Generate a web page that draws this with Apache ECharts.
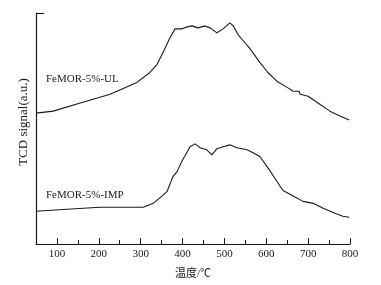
<!DOCTYPE html>
<html>
<head>
<meta charset="utf-8">
<script src="https://cdn.jsdelivr.net/npm/echarts@6/dist/echarts.min.js"></script>
<style>
  html, body { margin: 0; padding: 0; background: #fff; }
  #chart { width: 381px; height: 285px; }
</style>
</head>
<body>
<div id="chart"></div>
<script>
// temperature (°C) / signal pairs
const ulTemp = [50, 91, 162, 227, 291, 322, 339, 353, 370, 382, 399, 411, 423, 437, 454, 466, 482, 497, 513, 521, 533, 549, 561, 585, 604, 626, 650, 664, 678, 681, 700, 721, 752, 776, 798];
const ulSignal = [132, 134, 143, 151, 163, 173, 181, 193, 208, 217, 217, 219, 220, 218, 220, 218, 213, 217, 223, 220, 211, 203, 197, 183, 173, 164, 158, 154, 154, 151, 149, 143, 134, 129, 125];

const impTemp = [50, 124, 203, 306, 330, 353, 363, 377, 387, 399, 406, 418, 430, 442, 458, 470, 482, 497, 513, 530, 554, 573, 585, 602, 621, 640, 662, 688, 712, 736, 764, 783, 798];
const impSignal = [33, 35, 37, 37, 41, 49, 53, 68, 73, 84, 89, 98, 101, 97, 95, 90, 96, 98, 100, 97, 95, 91, 88, 78, 66, 54, 49, 43, 41, 36, 31, 28, 27];

const majorTicks = [100, 200, 300, 400, 500, 600, 700, 800];
const minorTicks = [150, 250, 350, 450, 550, 650, 750];

const seriesNames = ['FeMOR-5%-UL', 'FeMOR-5%-IMP'];

const font = '"Liberation Serif", "Noto Sans CJK SC", serif';
const ink = '#1a1a1a';

function pairs(xs, ys) {
  return xs.map((x, i) => [x, ys[i]]);
}

const chart = echarts.init(document.getElementById('chart'));
chart.setOption({
  animation: false,
  grid: { left: 36, top: 13, right: 31, bottom: 39 },
  xAxis: [
    {
      type: 'value', min: 50, max: 800,
      name: '温度/℃', nameLocation: 'middle', nameGap: 25,
      nameTextStyle: { fontFamily: font, fontSize: 11, color: ink },
      axisLine: { lineStyle: { color: ink, width: 1.2 } },
      axisTick: { inside: true, length: 6, customValues: majorTicks, lineStyle: { color: ink } },
      axisLabel: { customValues: majorTicks, fontFamily: font, fontSize: 11, color: ink, margin: 5 },
      splitLine: { show: false }
    },
    {
      type: 'value', min: 50, max: 800, position: 'bottom',
      axisLine: { show: false },
      axisTick: { inside: true, length: 4, customValues: minorTicks, lineStyle: { color: ink } },
      axisLabel: { show: false },
      splitLine: { show: false }
    }
  ],
  yAxis: {
    type: 'value', min: 0, max: 233, interval: 233,
    name: 'TCD signal(a.u.)', nameLocation: 'middle', nameGap: 6, nameRotate: 90,
    nameTextStyle: { fontFamily: font, fontSize: 13, color: ink, padding: [0, 0, 0, 13] },
    axisLine: { show: true, lineStyle: { color: ink, width: 1.2 } },
    axisTick: { show: true, inside: true, length: 8, lineStyle: { color: ink } },
    axisLabel: { show: false },
    splitLine: { show: false }
  },
  series: [
    {
      name: seriesNames[0], type: 'line', data: pairs(ulTemp, ulSignal),
      showSymbol: false, lineStyle: { color: ink, width: 1.1 }
    },
    {
      name: seriesNames[1], type: 'line', data: pairs(impTemp, impSignal),
      showSymbol: false, lineStyle: { color: ink, width: 1.1 }
    }
  ],
  graphic: [
    { type: 'text', left: 46, top: 74, style: { text: seriesNames[0], font: '11px ' + font, fill: ink } },
    { type: 'text', left: 46, top: 190, style: { text: seriesNames[1], font: '11px ' + font, fill: ink } }
  ]
});
</script>
</body>
</html>
